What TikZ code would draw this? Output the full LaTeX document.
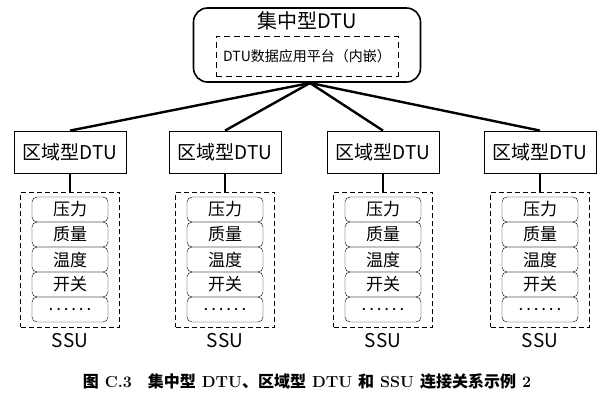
\documentclass[tikz,border=0pt]{standalone}
\usepackage{fontspec}
\newfontfamily\cjk{Noto Sans CJK SC}
\tikzset{
    dtu/.style={draw,thick,minimum width=112pt,minimum height=42pt,font=\cjk\fontsize{19}{19}\selectfont},
    item/.style={draw,rounded corners=5pt,minimum width=76pt,minimum height=25pt,inner sep=0pt,font=\cjk\fontsize{17}{17}\selectfont},
    ssu/.style={draw,dash pattern=on 5pt off 3pt,minimum width=99pt,minimum height=135pt},
}
\begin{document}
\begin{tikzpicture}[x=1pt,y=-1pt]
        \useasboundingbox (0,0) rectangle (616,400);
        \node[draw,line width=1.6pt,rounded corners=14pt,minimum width=227pt,minimum height=74pt] (top) at (307,45) {};
        \node[font=\cjk\fontsize{20}{20}\selectfont] (toplabel) at (307,21) {集中型DTU};
        \node[draw,dash pattern=on 6pt off 4pt,minimum width=182pt,minimum height=40pt,font=\cjk\fontsize{14}{14}\selectfont] (platform) at (307,56) {DTU数据应用平台（内嵌）};
        \coordinate (hub) at (310,83);
        \foreach \i/\x in {1/70,2/225,3/383,4/540}{
            \node[dtu] (dtu\i) at (\x,152) {区域型DTU};
            \draw[line width=2.4pt] (hub) -- (dtu\i.north);
            \node[ssu] (ssu\i) at (\x,259.5) {};
            \draw[line width=2.4pt] (dtu\i.south) -- (ssu\i.north);
            \foreach \t [count=\j] in {压力,质量,温度,开关,{.\,.\,.\,.\,.\,.}}{
                \node[item] (s\i\j) at (\x,184.5+25*\j) {\t};
            }
            \node[font=\cjk\fontsize{19}{19}\selectfont] (lab\i) at (\x,341) {SSU};
        }
        \node[font=\fontsize{16}{16}\selectfont\bfseries] (caption) at (307,381)
            {{\cjk 图}\ C.3\quad {\cjk 集中型} DTU{\cjk 、区域型} DTU {\cjk 和} SSU {\cjk 连接关系示例} 2};
\end{tikzpicture}
\end{document}
